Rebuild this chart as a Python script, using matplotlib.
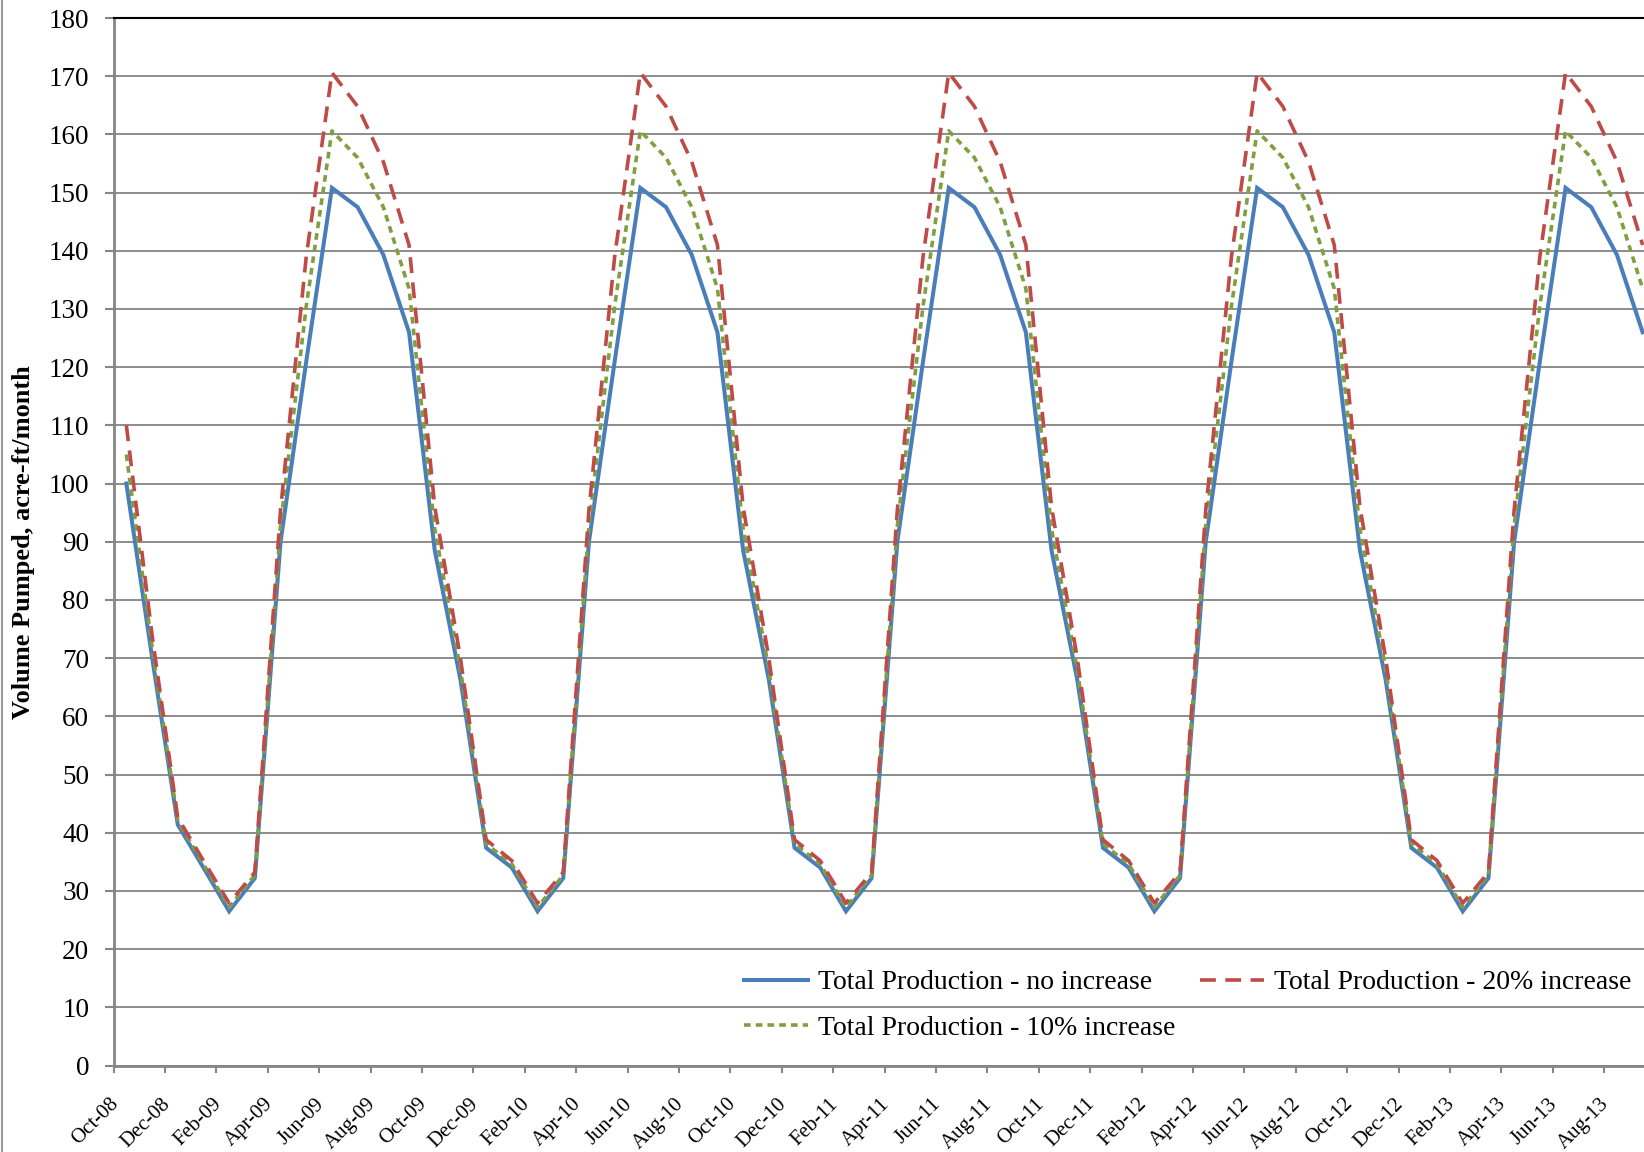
import numpy as np
import pandas as pd
import matplotlib
matplotlib.use("Agg")
import matplotlib.pyplot as plt
from matplotlib.lines import Line2D
from matplotlib.transforms import ScaledTranslation

# ─────────────────────────────────────────────────────────────────────────────
# DATA  (acre-ft/month)
# ─────────────────────────────────────────────────────────────────────────────

MONTHS = pd.date_range("2008-10-01", periods=60, freq="MS")

#               Oct    Nov    Dec    Jan    Feb    Mar    Apr    May    Jun    Jul    Aug    Sep
NO_INCREASE = [100.0, 70.2, 41.4,
                                     34.0,  26.5,  32.2,  90.0, 121.0, 150.8, 147.5, 139.3, 126.0,
               88.5,  66.3,  37.4,  34.0,  26.5,  32.2,  90.0, 121.0, 150.8, 147.5, 139.3, 126.0,
               88.5,  66.3,  37.4,  34.0,  26.5,  32.2,  90.0, 121.0, 150.8, 147.5, 139.3, 126.0,
               88.5,  66.3,  37.4,  34.0,  26.5,  32.2,  90.0, 121.0, 150.8, 147.5, 139.3, 126.0,
               88.5,  66.3,  37.4,  34.0,  26.5,  32.2,  90.0, 121.0, 150.8, 147.5, 139.3, 126.0]

INCREASE_20 = [110.0, 74.0, 42.6,
                                     35.2,  27.9,  33.2,  95.5, 139.0, 170.6, 164.8, 155.3, 141.0,
               96.0,  70.0,  38.8,  35.2,  27.9,  33.2,  95.5, 139.0, 170.6, 164.8, 155.3, 141.0,
               96.0,  70.0,  38.8,  35.2,  27.9,  33.2,  95.5, 139.0, 170.6, 164.8, 155.3, 141.0,
               96.0,  70.0,  38.8,  35.2,  27.9,  33.2,  95.5, 139.0, 170.6, 164.8, 155.3, 141.0,
               96.0,  70.0,  38.8,  35.2,  27.9,  33.2,  95.5, 139.0, 170.6, 164.8, 155.3, 141.0]

INCREASE_10 = [105.0, 72.0, 42.0,
                                     34.6,  27.2,  32.7,  92.8, 130.5, 160.6, 156.0, 147.5, 133.5,
               92.2,  68.1,  38.1,  34.6,  27.2,  32.7,  92.8, 130.5, 160.6, 156.0, 147.5, 133.5,
               92.2,  68.1,  38.1,  34.6,  27.2,  32.7,  92.8, 130.5, 160.6, 156.0, 147.5, 133.5,
               92.2,  68.1,  38.1,  34.6,  27.2,  32.7,  92.8, 130.5, 160.6, 156.0, 147.5, 133.5,
               92.2,  68.1,  38.1,  34.6,  27.2,  32.7,  92.8, 130.5, 160.6, 156.0, 147.5, 133.5]

LABEL_NONE = "Total Production - no increase"
LABEL_10   = "Total Production - 10% increase"
LABEL_20   = "Total Production - 20% increase"
Y_LABEL    = "Volume Pumped, acre-ft/month"

# ─────────────────────────────────────────────────────────────────────────────
# STYLE
# ─────────────────────────────────────────────────────────────────────────────

W_PX, H_PX, DPI = 1644, 1152, 100
BLUE  = "#4A7EBB"
RED   = "#BE4B48"
GREEN = "#7F9F40"
GRID  = "#8C8C8C"
AXIS  = "#868686"
FS    = 19

plt.rcParams["font.family"] = ["Liberation Serif", "DejaVu Serif"]


def px(v, total):
    return v / total


def main():
    fig = plt.figure(figsize=(W_PX / DPI, H_PX / DPI), dpi=DPI)

    left, top, bottom = 113.5, 18.0, 1065.5
    ax = fig.add_axes([px(left, W_PX), 1 - px(bottom, H_PX),
                       1 - px(left, W_PX), px(bottom - top, H_PX)])

    x = np.arange(len(MONTHS)) + 0.5
    ax.plot(x, NO_INCREASE, color=BLUE, lw=2.9, label=LABEL_NONE,
            solid_joinstyle="miter")
    ax.plot(x, INCREASE_10, color=GREEN, lw=2.6, linestyle=(0, (1.85, 1.4)),
            label=LABEL_10)
    ax.plot(x, INCREASE_20, color=RED, lw=2.6, linestyle=(0, (4.4, 2.6)),
            label=LABEL_20)

    # axes
    ax.set_ylim(0, 180)
    ax.set_yticks(np.arange(0, 181, 10))
    ax.set_xlim(0, (W_PX - left) / 25.7)
    ax.set_xticks(np.arange(0, len(MONTHS), 2))
    ax.set_xticklabels([d.strftime("%b-%y") for d in MONTHS[::2]],
                       rotation=45, ha="right", va="top")

    ax.yaxis.grid(True, color=GRID, lw=1.4)
    ax.set_axisbelow(True)
    for side in ("left", "bottom"):
        ax.spines[side].set_color(AXIS)
        ax.spines[side].set_linewidth(2.0)
    ax.spines["right"].set_visible(False)
    ax.spines["top"].set_color("black")
    ax.spines["top"].set_linewidth(1.5)

    ax.tick_params(axis="y", direction="out", length=6.5, width=1.5,
                   color=AXIS, pad=11, labelsize=FS + 0.5)
    ax.tick_params(axis="x", direction="out", length=5, width=1.5,
                   color=AXIS, pad=16, labelsize=15)

    shift = ScaledTranslation(9 / DPI, 0, fig.dpi_scale_trans)
    for lbl in ax.get_xticklabels():
        lbl.set_transform(lbl.get_transform() + shift)

    fig.text(px(23.5, W_PX), 1 - px(542, H_PX), Y_LABEL, rotation=90,
             ha="center", va="center", fontweight="bold", fontsize=FS)

    # legend: blue / red on the first row, green below
    ax.legend(ncol=2, frameon=False, fontsize=20,
              loc="upper left",
              bbox_to_anchor=(px(744, W_PX), 1 - px(970, H_PX)),
              bbox_transform=fig.transFigure,
              borderpad=0, borderaxespad=0,
              handlelength=2.3, handletextpad=0.35,
              columnspacing=0.9, labelspacing=0.72)

    # chart-area border on the far left
    fig.add_artist(Line2D([1.5 / W_PX, 1.5 / W_PX], [0, 1],
                          transform=fig.transFigure, color="#9A9A9A", lw=1.5))

    fig.savefig("out.png", dpi=DPI)
    plt.close(fig)


if __name__ == "__main__":
    main()
